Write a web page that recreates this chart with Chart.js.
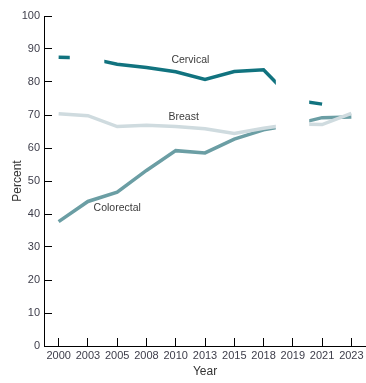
<!DOCTYPE html>
<html>
<head>
<meta charset="utf-8">
<script src="https://cdn.jsdelivr.net/npm/chart.js@4/dist/chart.umd.min.js"></script>
<style>
html,body{margin:0;padding:0;background:#fff;}
#wrap{width:366px;height:383px;}
</style>
</head>
<body>
<div id="wrap"><canvas id="c" width="366" height="383"></canvas></div>
<script>
const years = ['2000','2003','2005','2008','2010','2013','2015','2018','2019','2021','2023'];
const cervical   = [87.5, 87.3, 85.4, 84.4, 83.1, 80.8, 83.2, 83.7, 74.6, 73.3, null];
const breast     = [70.4, 69.8, 66.5, 66.9, 66.5, 65.8, 64.4, 66.0, 67.3, 67.1, 70.5];
const colorectal = [37.7, 43.8, 46.6, 53.2, 59.2, 58.5, 62.7, 65.5, 67.0, 69.2, 69.4];
const seriesNames = ['Cervical', 'Breast', 'Colorectal'];
const yTicks = [0,10,20,30,40,50,60,70,80,90,100];
// inline series labels: [category position, value]
const labelAnchors = [[4.5, 86.7], [4.27, 69.3], [2.0, 41.8]];
// white blanked regions seen in the source picture: [from cat, to cat, top value, bottom value]
const blankRegions = [[0.38, 1.56, 95, 80], [7.42, 8.56, 84, 60]];

const colors = ['#11737f', '#cfdbdf', '#6b9ea4'];

const overlay = {
  id: 'overlay',
  afterDatasetsDraw(chart) {
    const {ctx, scales: {x, y}} = chart;
    ctx.save();
    ctx.fillStyle = '#ffffff';
    blankRegions.forEach(([a, b, t, bt]) => {
      const x1 = x.getPixelForValue(a), x2 = x.getPixelForValue(b);
      const y1 = y.getPixelForValue(t), y2 = y.getPixelForValue(bt);
      ctx.fillRect(x1, y1, x2 - x1, y2 - y1);
    });
    ctx.restore();
  },
  afterDraw(chart) {
    const {ctx, scales: {x, y}} = chart;
    ctx.save();
    ctx.font = '10.5px "Liberation Sans Narrow", "Liberation Sans", sans-serif';
    ctx.fillStyle = '#3b3b3b';
    ctx.textAlign = 'center';
    ctx.textBaseline = 'middle';
    seriesNames.forEach((n, i) => {
      ctx.fillText(n, x.getPixelForValue(labelAnchors[i][0]), y.getPixelForValue(labelAnchors[i][1]));
    });
    ctx.restore();
  }
};

const tickFont = {family: '"Liberation Sans Narrow", "Liberation Sans", sans-serif', size: 11};

new Chart(document.getElementById('c'), {
  type: 'line',
  data: {
    labels: years,
    datasets: [
      {label: seriesNames[0], data: cervical, borderColor: colors[0]},
      {label: seriesNames[1], data: breast, borderColor: colors[1]},
      {label: seriesNames[2], data: colorectal, borderColor: colors[2]}
    ].map(d => Object.assign(d, {borderWidth: 3.5, pointRadius: 0, pointHoverRadius: 0, tension: 0, fill: false, spanGaps: false, borderCapStyle: 'butt'}))
  },
  options: {
    responsive: false,
    animation: false,
    events: [],
    layout: {padding: {top: 16, right: 0, left: 0, bottom: 0}},
    plugins: {legend: {display: false}, tooltip: {enabled: false}},
    scales: {
      x: {
        type: 'category',
        offset: true,
        grid: {offset: false, drawOnChartArea: false, tickLength: -8, color: '#000', lineWidth: 1},
        border: {color: '#000', width: 1},
        ticks: {font: tickFont, color: '#3d3d4a', padding: 11, maxRotation: 0, autoSkip: false},
        title: {display: true, text: 'Year', font: {family: '"Liberation Sans", sans-serif', size: 12}, color: '#333', padding: {top: 0, bottom: 4}},
        afterFit(s) { s.height = 37; s.paddingLeft = 0; s.paddingRight = 0; }
      },
      y: {
        min: 0, max: 100,
        afterBuildTicks(s) { s.ticks = yTicks.map(v => ({value: v})); },
        grid: {drawOnChartArea: false, tickLength: -8, color: '#000', lineWidth: 1},
        border: {color: '#000', width: 1},
        ticks: {font: tickFont, color: '#3d3d4a', padding: 12},
        title: {display: true, text: 'Percent', font: {family: '"Liberation Sans", sans-serif', size: 12}, color: '#333', padding: {top: 10, bottom: 0}},
        afterFit(s) { s.width = 44; s.paddingTop = 0; s.paddingBottom = 0; }
      }
    }
  },
  plugins: [overlay]
});
</script>
</body>
</html>
